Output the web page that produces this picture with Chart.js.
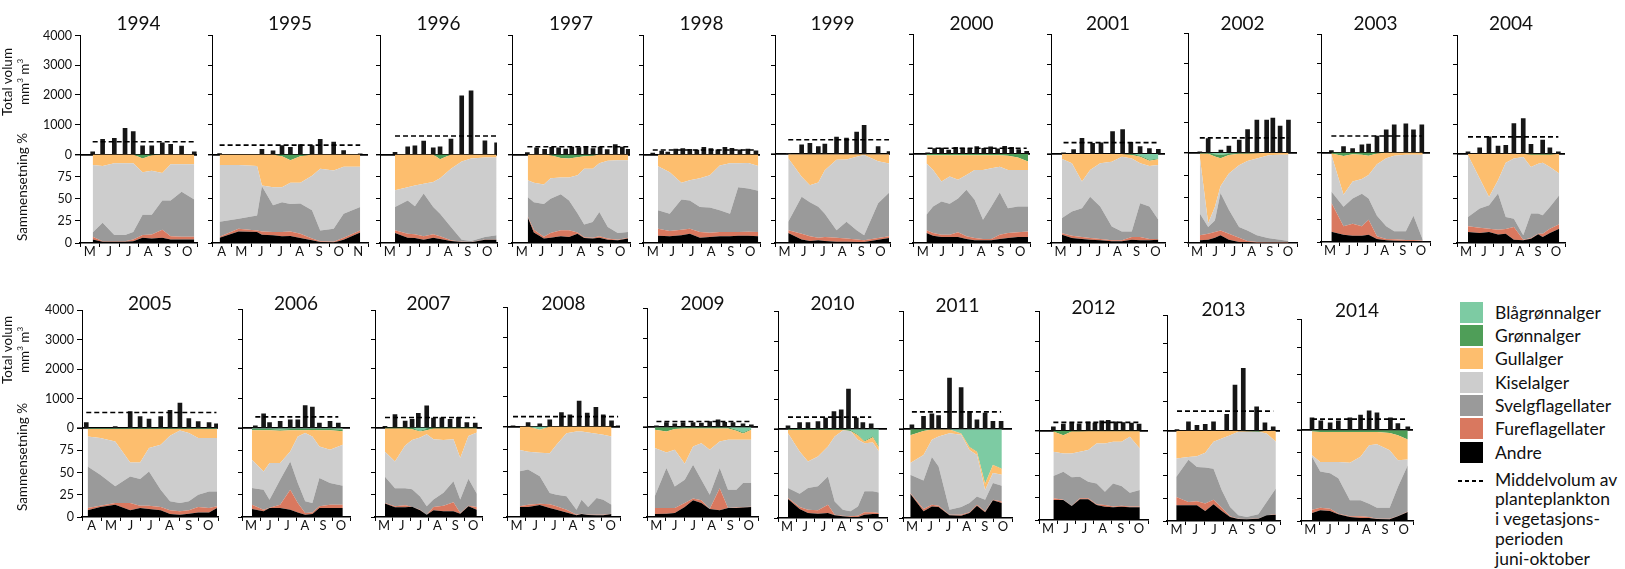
<!DOCTYPE html>
<html><head><meta charset="utf-8">
<script src="https://cdn.jsdelivr.net/npm/chart.js@4.4.1/dist/chart.umd.min.js"></script>
<style>
html,body{margin:0;padding:0;background:#fff;}
#wrap{position:relative;width:1625px;height:569px;overflow:hidden;font-family:Lato,"Open Sans",sans-serif;color:#111;}
#wrap canvas{position:absolute;}
.rot{position:absolute;transform:translate(-50%,-50%) rotate(-90deg);white-space:nowrap;text-align:center;font-size:13.5px;line-height:13px;}
.sw{position:absolute;left:1460px;width:23px;height:21px;}
.lt{position:absolute;left:1495px;font-size:17.5px;line-height:21px;white-space:nowrap;}
</style></head><body><div id="wrap"></div>
<script>
// ---------------- DATA ----------------
const MONTH_LETTERS = ['J','F','M','A','M','J','J','A','S','O','N','D'];
const SERIES = ['Andre','Fureflagellater','Svelgflagellater','Kiselalger','Gullalger','Grønnalger','Blågrønnalger'];
const SERIES_COLORS = ['#000000','#d9785f','#9a9a9a','#cdcdcd','#fdbe6e','#4f9e58','#7dcba3'];

// Total volume (mm³/m³) per sample; x = month number + fraction of month
const barX_1994 = [5.65,6.16,6.76,7.31,7.73,8.21,8.68,9.22,9.65,10.21,10.86];
const vol_1994  = [90,510,540,880,770,290,290,390,340,280,90];
const barX_1995 = [4.39,6.56,7.13,7.59,8.02,8.53,9.13,9.55,10.24,10.75,11.6];
const vol_1995  = [30,170,120,300,240,330,300,510,420,130,20];
const barX_1996 = [5.77,6.42,6.79,7.24,7.73,8.08,8.64,9.19,9.67,10.38,10.98];
const vol_1996  = [68,260,293,450,225,260,518,1972,2140,460,395];
const barX_1997 = [5.78,6.25,6.66,7.02,7.37,7.73,8.04,8.4,8.76,9.12,9.48,9.84,10.25,10.61,10.91];
const vol_1997  = [60,220,170,240,220,180,250,230,260,200,250,160,330,250,170];
const barX_1998 = [5.5,5.96,6.27,6.68,7.04,7.4,7.76,8.12,8.48,8.84,9.2,9.56,9.97,10.38,10.79];
const vol_1998  = [50,110,80,180,200,170,150,240,200,160,240,210,160,180,120];
const barX_1999 = [5.69,6.39,6.82,7.26,7.6,8.21,8.73,9.26,9.65,10.38,10.95];
const vol_1999  = [30,315,370,260,340,575,540,745,970,260,90];
const barX_2000 = [5.75,6.11,6.47,6.83,7.19,7.55,7.91,8.27,8.63,8.98,9.34,9.7,10.06,10.42,10.83];
const vol_2000  = [40,180,200,130,220,200,170,250,190,240,170,260,220,150,90];
const barX_2001 = [5.66,6.19,6.63,7.19,7.63,8.24,8.77,9.2,9.69,10.18,10.65];
const vol_2001  = [40,150,520,360,370,750,820,390,250,180,160];
const barX_2002 = [5.65,6.11,6.81,7.25,7.82,8.28,8.79,9.33,9.67,10.07,10.53];
const vol_2002  = [35,480,90,225,425,780,1100,1100,1160,900,1100];
const barX_2003 = [5.57,6.24,6.74,7.25,7.62,8.08,8.59,9.03,9.67,10.09,10.55];
const vol_2003  = [68,200,135,260,290,560,765,935,970,765,935];
const barX_2004 = [5.61,6.26,6.78,7.28,7.71,8.16,8.68,9.11,9.76,10.16,10.63];
const vol_2004  = [67,200,573,260,290,1020,1190,325,460,200,67];
const barX_2005 = [4.22,5.71,6.48,6.99,7.45,8.05,8.53,9.04,9.5,9.98,10.54,10.92];
const vol_2005  = [190,55,560,395,305,395,600,845,325,225,190,146];
const barX_2006 = [5.74,6.2,6.53,7.12,7.68,8.1,8.51,8.91,9.3,9.89,10.35];
const vol_2006  = [80,485,190,225,280,280,755,710,170,225,170];
const barX_2007 = [5.56,6.12,6.69,7.08,7.43,7.9,8.28,8.75,9.21,9.68,10.15,10.62];
const vol_2007  = [40,440,220,280,480,740,320,330,280,350,170,150];
const barX_2008 = [5.32,6.12,6.74,7.27,7.89,8.34,8.83,9.26,9.72,10.11,10.55,10.9];
const vol_2008  = [20,135,90,225,470,390,860,450,650,390,190,20];
const barX_2009 = [5.51,6.05,6.5,6.95,7.49,7.94,8.39,8.84,9.2,9.65,10.19,10.64];
const vol_2009  = [45,155,110,155,155,135,190,245,160,150,110,80];
const barX_2010 = [5.55,6.19,6.65,7.2,7.62,8.08,8.48,8.88,9.31,9.67,10.13];
const vol_2010  = [113,225,225,260,375,600,655,1360,375,225,180];
const barX_2011 = [5.49,6.13,6.59,6.96,7.56,8.2,8.66,9.07,9.52,9.95,10.4];
const vol_2011  = [145,430,520,460,1725,1410,600,315,540,260,260];
const barX_2012 = [5.79,6.34,6.8,7.21,7.71,8.08,8.45,8.81,9.23,9.63,10.09,10.51];
const vol_2012  = [130,220,260,230,290,260,330,350,300,270,260,220];
const barX_2013 = [5.53,6.14,6.59,7.03,7.47,8.17,8.61,9.05,9.76,10.2,10.64];
const vol_2013  = [45,310,195,230,310,575,1580,2155,830,275,140];
const barX_2014 = [5.59,6.06,6.56,7.0,7.62,8.19,8.65,9.07,9.79,10.19,10.72];
const vol_2014  = [445,340,265,340,445,540,700,625,445,240,120];

// Mean volume in the growing season (dashed line), mm³/m³
const meanVol = {1994:430,1995:315,1996:620,1997:260,1998:150,1999:485,2000:190,2001:380,2002:500,2003:560,2004:573,
                 2005:530,2006:380,2007:340,2008:335,2009:190,2010:410,2011:585,2012:280,2013:680,2014:400};

// Composition: [month, Andre, +Fure, +Svelg, +Kisel, +Gull, +Grønn] cumulative %, Blågrønnalger fills up to 100
const comp_1994 = [[5.65,4,7,12,88,100,100],[6.16,1.5,2,23,87,100,100],[6.76,1.5,2,9,90,100,100],[7.31,1.5,2,9,90,100,100],[7.73,2,4,12.5,90,100,100],[8.21,6,9,32,80,95.5,100],[8.68,5,9.5,32,81.5,99,100],[9.22,6,15,48,79,100,100],[9.65,4,7.5,48,89,100,100],[10.21,4,7,58,89,100,100],[10.86,4,7,49,89,100,100]];
const comp_1995 = [[4.39,6,7,24,88,100,100],[5.36,13,16,27.5,88,100,100],[6.31,12.5,14,31,87,100,100],[6.56,9.4,13,64,65,100,100],[7.13,8.7,12.5,42.6,63,100,100],[7.59,7.5,12.5,46,63,98,100],[8.02,8,13,44,68,93.5,100],[8.53,5.7,10.5,44.5,68,98,100],[9.13,3,5,37,76,100,100],[9.55,1,2,14,84,100,100],[10.24,0.7,1.5,16,82,100,100],[10.75,3.8,6,33,86,100,100],[11.6,12,14,40.8,86,100,100]];
const comp_1996 = [[5.77,11.3,14.3,40.8,59.6,100,100],[6.42,6,10.5,48,63,100,100],[6.79,5.7,9.8,41.5,65,100,100],[7.24,3.8,7.5,56,67,100,100],[7.73,6,9.8,40.8,69,100,100],[8.08,4.5,7.5,33,73,94.5,100],[8.64,2.3,3,18,84,100,100],[9.19,1,1.5,3.8,92,100,100],[9.67,0.8,1.2,2.3,95.5,100,100],[10.38,3.8,4,6.8,96.6,100,100],[10.98,3.8,4,8.7,96.6,100,100]];
const comp_1997 = [[5.8,29,30,52,71,100,100],[6.11,12,15,46,68,100,100],[6.62,5,7,44,66,100,100],[6.96,6,11.3,50,73,99,100],[7.48,7.5,14.3,55,74,96,100],[7.9,6.8,14.3,48,74,95.5,100],[8.33,10.5,12,33.6,76.6,97,100],[8.67,5.7,6.5,21,84,98,100],[9.1,5,6,23.8,84,98.5,100],[9.44,6,7.5,35,90,100,100],[9.87,3.8,5,18,93,100,100],[10.38,3,3.8,11.3,93.6,100,100],[10.9,5,6,12.5,93.6,100,100]];
const comp_1998 = [[5.77,8.3,16,37,86.8,100,100],[6.37,7.5,13.6,33,80,100,100],[6.97,8.7,15,49,68,100,100],[7.4,10.5,16,48,71,100,100],[7.92,6,12.5,40.8,73,100,100],[8.43,6.8,11.7,40,76.6,100,100],[8.94,7.5,12.5,37,87.5,100,100],[9.46,7.5,12.5,33,90,100,100],[9.88,8.3,12.5,63,90,100,100],[10.4,8.3,12.8,61.5,90.5,100,100],[10.91,7.5,12.5,59,87,100,100]];
const comp_1999 = [[5.69,11.3,14.3,23.8,95.5,100,100],[6.39,3.8,10.5,52,74.7,100,100],[6.82,2.3,7.5,46,65,100,100],[7.26,3,6,40.8,68,100,100],[7.6,2.3,6.8,33,82,100,100],[8.21,1.5,6,14.3,93.6,100,100],[8.73,1.5,5,23.8,94,100,100],[9.26,1.2,3.8,14.3,97,100,100],[9.65,1.2,3,8.7,99,100,100],[10.38,3.7,5.6,44.8,92,100,100],[10.95,5.6,7.5,56.7,89.5,100,100]];
const comp_2000 = [[5.69,11.2,14.2,31.7,89.5,98.5,100],[6.03,8.2,11.2,41,82,98.5,100],[6.46,6.7,9.3,46.6,69,98.5,100],[6.88,6.7,9.3,44,74.6,98.5,100],[7.31,6.7,12,50,71,98.5,100],[7.74,4.5,7.5,59.7,76.5,98.5,100],[8.16,3,5.6,48.5,82,98.5,100],[8.59,3,4.5,26,82,98.5,100],[9.02,3,4.5,41,84,98.5,100],[9.45,4.5,9.3,56.7,85.8,98.5,100],[9.87,5.6,11.2,39,82,98,100],[10.38,6.7,12,41,82,96,100],[10.9,6.7,13,41,82,91.5,100]];
const comp_2001 = [[5.58,9.3,11,28,94.4,100,100],[6.1,5.6,8.2,35.4,89.6,100,100],[6.63,4.5,6.7,39,69,100,100],[7.06,3.7,5.6,52,82,100,100],[7.59,3,4.5,41,89.6,100,100],[8.2,1.9,3,18.6,91.4,100,100],[8.73,1.9,3,13,97,100,100],[9.25,3.7,6.7,13,95,99,100],[9.69,3,6.7,44.8,89.5,97,98],[10.18,3,4.5,41,86.5,92.5,93.5],[10.65,3.7,4.5,26,87.7,94,95]];
const comp_2002 = [[5.65,3,8.5,32.6,95.5,99,99.5],[6.11,3.7,10.4,17.8,22,99,99.5],[6.48,5.9,12.2,25,40,96,98.5],[6.79,8.5,14,55.5,62.9,94,97.5],[7.25,3.7,10.4,37,77,97.5,99],[7.81,1,5.9,17.8,86.3,99,99.5],[8.27,0.7,2.2,14,91,99,99.5],[8.79,0.4,1,8.5,93.7,99.5,100],[9.39,0.4,0.8,5.5,97,100,100],[9.67,0.4,0.8,4.6,97.5,100,100],[10.07,0.4,0.8,3.7,98,100,100],[10.53,0.4,0.8,2.3,98,100,100]];
const comp_2003 = [[5.57,11.5,43.9,56.5,97.4,99,100],[6.24,8.2,17.5,39.4,52.8,96,100],[6.74,7,20.4,48.7,67.7,98,100],[7.25,7,17.5,54,70.3,97.5,100],[7.62,8.2,25,48.7,75,96.5,100],[8.08,3.3,6.3,29.4,87,99,100],[8.59,1.9,3.3,17.5,93.7,100,100],[9.03,1.5,3,11.9,96.3,100,100],[9.67,1.2,2.2,11.9,97.4,100,100],[10.09,1.2,2.2,29.4,97.4,100,100],[10.6,0.8,1.5,2.6,97.4,100,100]];
const comp_2004 = [[5.61,12.4,18.7,29.2,98.5,100,100],[6.26,11.2,17.2,38.6,72.3,100,100],[6.78,12.4,16,42.3,51.7,100,100],[7.28,9.4,15,55.4,70.4,100,100],[7.71,10.5,15.7,29.2,90,100,100],[8.16,3.7,18,27.3,94.8,100,100],[8.68,3,3.7,8.6,96.6,100,100],[9.11,4.9,5.5,33,85.4,99,100],[9.51,9.7,10.5,33,89,99,100],[9.76,6.7,10.5,31,90,99,100],[10.16,11.2,16,40.4,85.4,99,100],[10.68,16,21,53.5,77.9,100,100]];
const comp_2005 = [[4.29,7.5,10.1,56.9,90.6,99,100],[4.94,11.2,12.7,47.6,88.8,99,100],[5.71,13.9,15.7,34.5,85,99,100],[6.48,7.5,15.7,45.7,61.4,99,100],[6.99,10.1,12.7,42.7,61.4,99,100],[7.45,9,12.7,51.3,77.5,99,100],[8.05,7.5,11.2,30.7,81.3,99,100],[8.53,3.4,7.5,17.6,91.4,99,100],[9.04,2.6,6.4,15.7,97.4,99,100],[9.5,3.7,7.5,17.6,94.4,99,100],[9.98,5.2,11.2,25.1,88.8,99,100],[10.54,5.2,10.1,28.8,88.8,99,100],[10.95,10.1,12,28.8,88.8,99,100]];
const comp_2006 = [[5.55,9,13.9,32.6,64.4,97.5,99],[6.2,6.4,8.2,30.7,51.3,97.5,99],[6.53,10.1,10.5,19.5,60.7,97.5,99],[7.12,10.1,13.9,42,60.7,97,98.5],[7.68,8.2,30.7,62.5,73.8,97.5,99],[8.1,5.2,15.7,38.2,90.6,97.5,99],[8.51,2.6,4.5,17.6,94.4,97.5,99],[8.91,3.4,5.2,15.7,90.6,98,99],[9.3,10.1,12,43.8,79.4,97.5,99],[9.89,10.1,13.9,38.2,75.7,97.5,99],[10.6,10.1,13.9,35.2,81.3,96.5,98.5]];
const comp_2007 = [[5.56,15,15.6,45,73,99,100],[6.12,11,11.9,32,62,99,100],[6.69,11,13,32,80,99,100],[7.08,11.5,11.5,31,86,98,99.5],[7.53,7.5,8.2,23,88.8,95.5,96],[7.9,2.6,2.6,12,92.5,97,98.5],[8.28,7.5,11.2,19.5,87,99,100],[8.84,6.4,12.7,27,86,99,100],[9.4,6.4,16.5,40,87,99,100],[9.78,3.7,4.5,19.5,66,99,100],[10.24,12,12.7,42.7,90.6,99,100],[10.71,8.2,11.2,26,94.4,99,100]];
const comp_2008 = [[5.68,11,11.8,50.7,74,100,100],[6.12,11,13.6,52.6,72,100,100],[6.74,13.2,14.7,45,71,96.5,96.5],[7.27,10,14,26.5,70.6,100,100],[7.63,8,12,24.6,79.8,100,100],[8.16,5.1,8,22.8,92.6,100,100],[8.69,1.8,2.6,8,94.5,100,100],[8.96,3.3,3.7,19,94.5,100,100],[9.31,2.2,2.6,11,93.4,100,100],[9.76,1.8,2.6,21,92,100,100],[10.11,1.8,2.6,19,90.8,100,100],[10.55,3.3,3.7,13.6,89,100,100]];
const comp_2009 = [[5.42,3.3,10,23,76.7,97,100],[6.05,3.7,10,54.4,71.8,95,100],[6.5,4.4,10,34,74.8,98,100],[7.04,11,15.5,41.5,59.3,98.5,100],[7.49,18.5,20.7,58.1,78.5,98.5,100],[7.94,15.5,18.5,41.5,82,98.5,100],[8.39,8.9,8.9,24.8,74.8,98.5,100],[8.93,7.4,31.9,54.4,84,98.5,100],[9.38,10,10,30.4,85.9,98.5,100],[9.83,10,10.5,30.4,85.9,96,97],[10.19,10.5,11,37.8,85.9,93,94],[10.64,11,11.5,37.8,85.9,97,98]];
const comp_2010 = [[5.55,21.3,22.5,33.7,95.5,99,100],[6.19,10.1,12.4,27.3,74.9,99,100],[6.65,5.6,9.4,33.7,63.7,99,100],[7.2,4.9,8.6,35.6,69.3,99,100],[7.75,5.6,15,46.8,80.5,99,100],[8.12,3,3.7,18.7,91.8,99,100],[8.57,1.9,2.6,9.4,98.5,99,100],[8.99,1.1,1.9,7.5,98,98,99],[9.4,1.1,2.6,13,88,93,94],[9.76,3.7,6.4,30,84,86,87],[10.22,4.5,6.4,30,85,91,92],[10.55,4.5,5.6,28.8,75,80,81]];
const comp_2011 = [[5.4,27.3,28,48.7,61.8,93,100],[6.13,7.5,10.1,42.3,71,98,100],[6.59,13,15,68.5,88,99.5,100],[6.96,12.4,13.9,58,91.8,99.5,100],[7.56,3,3.7,9.4,95.5,99.5,100],[8.2,2.6,3.7,12.4,93.6,95,95.5],[8.66,5.6,6.4,16.9,76.4,80,80.5],[9.07,13.9,15,24.3,71,74.5,75],[9.52,6.4,7.5,20.6,31.5,38.5,39],[9.95,19.9,20.6,39.3,50.6,59.5,60],[10.44,16.9,18.7,36.3,48.7,55.5,56]];
const comp_2012 = [[5.79,22.4,24.3,49.3,76.5,99,100],[6.34,22.4,22.8,54,74.6,95,100],[6.8,15.7,16,47.8,74.6,99,100],[7.25,23.1,24.3,48.5,76.5,99,100],[7.71,23.1,24.3,42.9,78.4,99.5,100],[8.17,16.7,17.5,41,85.8,99.5,100],[8.63,14.9,16.7,31.7,85.8,99.5,100],[9.08,14.2,15,41,87.7,99.5,100],[9.54,14.9,16,38,87.7,99.5,100],[10.0,14.2,15,30.6,93.3,99.5,100],[10.55,14.2,15,33.6,80.2,99.5,100]];
const comp_2013 = [[5.49,17.4,26.7,48.9,69.3,100,100],[6.14,17.4,21,68,71,100,100],[6.59,17.4,22,60,71.9,100,100],[7.03,11.1,19.3,59.3,75.6,100,100],[7.47,18.5,23.7,58,87.8,100,100],[7.91,11.1,14.8,34,91.5,100,100],[8.35,4.4,5.2,15.6,95.2,100,100],[8.79,2.2,2.6,6.3,98.9,100,100],[9.23,1.9,2.2,4.4,98.9,99.5,100],[9.85,2.6,2.8,7.4,98.9,99,100],[10.29,6.3,6.5,21,97,100,100],[10.78,7,7.4,36,87.8,100,100]];
const comp_2014 = [[5.59,8.8,12.5,70.6,72.4,98.5,100],[6.03,11.8,14.7,54.4,65,98,100],[6.56,11,13.6,52.6,65,98,100],[7.0,7.4,8.1,47,65,98,100],[7.62,4.4,5.1,22.8,64,98,100],[8.19,3.3,5.1,22.8,70.6,98,100],[8.65,3.3,4.4,19.1,83.5,98,100],[9.07,2.2,2.6,14.7,84.6,98,100],[9.75,1.8,2.6,14.7,78,97,100],[10.19,5.1,5.5,37.5,66.9,94.5,100],[10.72,9.9,10.5,61.4,67.6,89.7,100]];

const DATA = {
  1994:{barX:barX_1994,vol:vol_1994,comp:comp_1994}, 1995:{barX:barX_1995,vol:vol_1995,comp:comp_1995},
  1996:{barX:barX_1996,vol:vol_1996,comp:comp_1996}, 1997:{barX:barX_1997,vol:vol_1997,comp:comp_1997},
  1998:{barX:barX_1998,vol:vol_1998,comp:comp_1998}, 1999:{barX:barX_1999,vol:vol_1999,comp:comp_1999},
  2000:{barX:barX_2000,vol:vol_2000,comp:comp_2000}, 2001:{barX:barX_2001,vol:vol_2001,comp:comp_2001},
  2002:{barX:barX_2002,vol:vol_2002,comp:comp_2002}, 2003:{barX:barX_2003,vol:vol_2003,comp:comp_2003},
  2004:{barX:barX_2004,vol:vol_2004,comp:comp_2004}, 2005:{barX:barX_2005,vol:vol_2005,comp:comp_2005},
  2006:{barX:barX_2006,vol:vol_2006,comp:comp_2006}, 2007:{barX:barX_2007,vol:vol_2007,comp:comp_2007},
  2008:{barX:barX_2008,vol:vol_2008,comp:comp_2008}, 2009:{barX:barX_2009,vol:vol_2009,comp:comp_2009},
  2010:{barX:barX_2010,vol:vol_2010,comp:comp_2010}, 2011:{barX:barX_2011,vol:vol_2011,comp:comp_2011},
  2012:{barX:barX_2012,vol:vol_2012,comp:comp_2012}, 2013:{barX:barX_2013,vol:vol_2013,comp:comp_2013},
  2014:{barX:barX_2014,vol:vol_2014,comp:comp_2014}
};

// ---------------- LAYOUT (page pixels) ----------------
// year, axisX, rightX, top(4000), zero, bottom, titleCenterY, firstMonth, endMonth, showTickLabels
const PANELS = [
 [1994,80,197,35.5,154.3,242.7,23.3,5,11,true],
 [1995,212,368,35.5,154.3,242.7,23.3,4,12,false],
 [1996,380,497,35.5,154.3,242.7,23.3,5,11,false],
 [1997,512,630,35,154.3,242.7,23.3,5,11,false],
 [1998,643,760,35.5,154.3,242.7,23.3,5,11,false],
 [1999,775,890,35.7,154,242.7,23.3,5,11,false],
 [2000,913,1030,34.3,154,243,23.3,5,11,false],
 [2001,1051,1165,34.3,154,243,23.3,5,11,false],
 [2002,1188,1297,33.3,152.7,242.7,23.3,5,11,false],
 [2003,1321,1430,34.3,152.7,242.3,23.3,5,11,false],
 [2004,1457,1565,35,153.7,242.7,23.3,5,11,false],
 [2005,82,218,310,428.3,517.3,303.3,4,11,true],
 [2006,242,350,309.3,428.3,517.3,303,5,11,false],
 [2007,375,482,310,427.7,517.3,303,5,11,false],
 [2008,507,620,307.7,426.7,517.3,303,5,11,false],
 [2009,647,758,308.3,427.3,517.3,303.3,5,11,false],
 [2010,778,887,311.7,429.3,518.3,303,5,11,false],
 [2011,903,1012,311,429.3,518.3,305,5,11,false],
 [2012,1039,1148,311.7,430.7,520,307.3,5,11,false],
 [2013,1167,1280,315,430.7,520.7,309.3,5,11,false],
 [2014,1301,1413,319.3,430,520.7,310,5,11,false]
];

const FONT = 'Lato, "Open Sans", sans-serif';
const wrap = document.getElementById('wrap');

function isInt(v){ return Math.abs(v - Math.round(v)) < 1e-6; }

function makePanel(p){
  const [year, ax, rx, top, zero, bot, titleY, m0, m1, labels] = p;
  const d = DATA[year];
  const yW = labels ? ax : 6;
  const tickLen = labels ? 5 : 4;
  const left = ax - yW;
  const cTop = Math.round(titleY - 11.4);
  const xH = 22;
  const W = yW + Math.round(rx - ax) + 4;
  const H = Math.round(bot) + xH - cTop;
  const pb = top - cTop - 22.8;
  const cv = document.createElement('canvas');
  cv.width = W; cv.height = H;
  cv.style.left = left + 'px'; cv.style.top = cTop + 'px';
  cv.style.width = W + 'px'; cv.style.height = H + 'px';
  wrap.appendChild(cv);

  const datasets = [];
  datasets.push({type:'bar', data:d.barX.map((x,i)=>({x:x, y:d.vol[i]})), backgroundColor:'#161616',
    barThickness:4, xAxisID:'x', yAxisID:'y', order:2});
  datasets.push({type:'line', data:[{x:d.barX[0], y:meanVol[year]},{x:d.barX[d.barX.length-1], y:meanVol[year]}],
    borderColor:'#000', borderWidth:1.6, borderDash:[5,3], pointRadius:0, fill:false, xAxisID:'x', yAxisID:'y', order:0});
  for (let k=0;k<7;k++){
    datasets.push({type:'line', label:SERIES[k],
      data:d.comp.map(r=>({x:r[0], y: k<6 ? r[k+1] : 100})),
      backgroundColor:SERIES_COLORS[k], borderColor:SERIES_COLORS[k], borderWidth:0,
      pointRadius:0, tension:0, fill: k===0 ? 'origin' : '-1', xAxisID:'x', yAxisID:'y2', order:1});
  }

  new Chart(cv, {
    type:'line',
    data:{datasets},
    options:{
      animation:false, responsive:false, devicePixelRatio:1, events:[],
      layout:{padding:{left:0,right:4,top:0,bottom:0}},
      plugins:{
        legend:{display:false}, tooltip:{enabled:false},
        title:{display:true, text:String(year), fullSize:false, color:'#111',
               font:{family:FONT, size:19, weight:'normal', lineHeight:1.2}, padding:{top:0,bottom:pb}}
      },
      scales:{
        x:{type:'linear', min:m0, max:m1, offset:false,
           border:{display:true, color:'#000', width:1.5},
           grid:{display:true, drawOnChartArea:false, drawTicks:true, tickLength:4, offset:false,
                 color:'rgba(0,0,0,0)', tickWidth:1,
                 tickColor: c => (c.tick && isInt(c.tick.value)) ? '#000' : 'rgba(0,0,0,0)'},
           ticks:{stepSize:0.5, autoSkip:false, maxRotation:0, minRotation:0, padding:-3, color:'#111',
                  font:{family:FONT, size:13},
                  callback: v => isInt(v) ? '' : MONTH_LETTERS[Math.floor(v)-1]},
           afterFit: s => { s.height = xH; }},
        y:{type:'linear', position:'left', stack:'panel', stackWeight: zero - top, weight:2,
           min:0, max:4000,
           border:{display:true, color:'#000', width:1},
           grid:{display:true, drawOnChartArea:false, drawTicks:true, tickLength:tickLen, tickColor:'#000', tickWidth:1},
           ticks:{display:labels, autoSkip:false, stepSize:1000, padding:3, color:'#111', font:{family:FONT, size:12.5},
                  callback: v => String(v)},
           afterFit: s => { s.width = yW; }},
        y2:{type:'linear', position:'left', stack:'panel', stackWeight: bot - zero, weight:1, z:1,
           min:0, max:100,
           border:{display:true, color:'#000', width:1},
           grid:{display:true, drawOnChartArea:true, drawTicks:true, tickLength:tickLen, tickColor:'#000', tickWidth:1,
                 color: c => (c.tick && c.tick.value === 100) ? '#000' : 'rgba(0,0,0,0)',
                 lineWidth: c => (c.tick && c.tick.value === 100) ? 1.8 : 1},
           ticks:{display:labels, autoSkip:false, stepSize:25, padding:3, color:'#111', font:{family:FONT, size:12.5},
                  callback: v => v === 100 ? '' : String(v)},
           afterFit: s => { s.width = yW; }}
      }
    }
  });
}

PANELS.forEach(makePanel);

// ---------------- axis titles ----------------
function rotText(html, cx, cy){
  const el = document.createElement('div');
  el.className = 'rot'; el.innerHTML = html;
  el.style.left = cx + 'px'; el.style.top = cy + 'px';
  wrap.appendChild(el);
}
rotText('Total volum<br>mm<sup style="font-size:8px">3</sup> m<sup style="font-size:8px">3</sup>', 16, 82);
rotText('Sammensetning %', 21.5, 187);
rotText('Total volum<br>mm<sup style="font-size:8px">3</sup> m<sup style="font-size:8px">3</sup>', 16, 350);
rotText('Sammensetning %', 21.5, 457);

// ---------------- legend ----------------
const LEGEND_ORDER = [6,5,4,3,2,1,0];
const swTops = [302,325,348.3,371.7,394.5,417.5,442];
LEGEND_ORDER.forEach((k,i)=>{
  const sw = document.createElement('div');
  sw.className = 'sw'; sw.style.top = swTops[i]+'px'; sw.style.background = SERIES_COLORS[k];
  wrap.appendChild(sw);
  const t = document.createElement('div');
  t.className = 'lt'; t.style.top = (swTops[i]) + 'px'; t.textContent = SERIES[k];
  wrap.appendChild(t);
});
const dash = document.createElement('div');
dash.style.cssText = 'position:absolute;left:1458px;top:480px;width:26px;height:1.6px;background:repeating-linear-gradient(90deg,#000 0 4px,transparent 4px 7px);';
wrap.appendChild(dash);
const mt = document.createElement('div');
mt.className = 'lt'; mt.style.top = '469.5px'; mt.style.lineHeight = '19.8px';
mt.innerHTML = 'Middelvolum av<br>planteplankton<br>i vegetasjons-<br>perioden<br>juni-oktober';
wrap.appendChild(mt);
</script></body></html>
